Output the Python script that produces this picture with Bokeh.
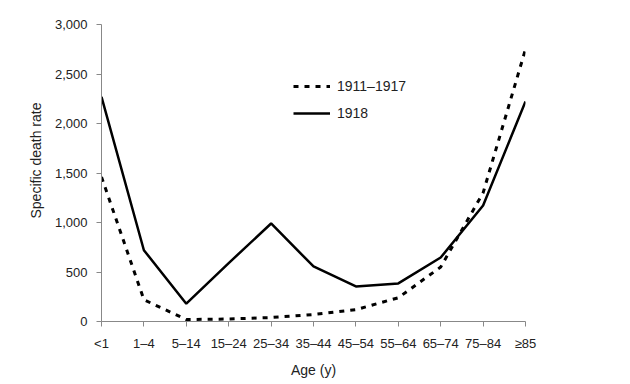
from bokeh.plotting import figure
from bokeh.models import Range1d, NumeralTickFormatter, FixedTicker, Legend, LegendItem, Title
from bokeh.embed import file_html
from bokeh.resources import INLINE

age_groups = ["<1", "1\u20134", "5\u201314", "15\u201324", "25\u201334", "35\u201344",
              "45\u201354", "55\u201364", "65\u201374", "75\u201384", "\u226585"]
rate_1911_1917 = [1460, 220, 20, 25, 40, 70, 120, 240, 550, 1300, 2750]
rate_1918 = [2270, 720, 180, 590, 990, 556, 354, 385, 646, 1172, 2222]
y_ticks = [0, 500, 1000, 1500, 2000, 2500, 3000]

x = list(range(len(age_groups)))

p = figure(width=620, height=380, output_backend="svg", toolbar_location=None,
           x_range=Range1d(0, len(age_groups) - 1), y_range=Range1d(0, 3000),
           min_border_left=101, min_border_right=95, min_border_top=24, min_border_bottom=59)
p.outline_line_color = None
p.grid.grid_line_color = None
p.background_fill_color = "white"

font = "Liberation Sans"
for ax in (p.xaxis[0], p.yaxis[0]):
    ax.axis_line_color = "#888888"
    ax.major_tick_line_color = "#888888"
    ax.minor_tick_line_color = None
    ax.major_tick_out = 5
    ax.major_tick_in = 0
    ax.major_label_text_font = font
    ax.major_label_text_font_size = "13px"
    ax.major_label_text_color = "#222222"
    ax.axis_label_text_font = font
    ax.axis_label_text_font_size = "14px"
    ax.axis_label_text_font_style = "normal"
    ax.axis_label_text_color = "#222222"

p.xaxis.ticker = FixedTicker(ticks=x)
p.xaxis.major_label_overrides = {i: lab for i, lab in enumerate(age_groups)}
p.xaxis.major_label_standoff = 9
p.xaxis.axis_label = "Age (y)"
p.xaxis.axis_label_standoff = 8

p.yaxis.ticker = FixedTicker(ticks=y_ticks)
p.yaxis.formatter = NumeralTickFormatter(format="0,0")
p.yaxis.major_label_standoff = 9

ytitle = Title(text="Specific death rate", align="left", offset=103, standoff=15,
               text_font=font, text_font_size="14px", text_font_style="normal",
               text_color="#222222")
p.add_layout(ytitle, "left")

r1 = p.line(x, rate_1911_1917, line_color="black", line_width=3, line_dash="5 6")
r2 = p.line(x, rate_1918, line_color="black", line_width=2.5)

legend = Legend(items=[LegendItem(label="1911\u20131917", renderers=[r1]),
                       LegendItem(label="1918", renderers=[r2])],
                location=(192, 198), border_line_color=None, background_fill_alpha=0,
                label_text_font=font, label_text_font_size="14px", label_text_color="#222222",
                glyph_width=37, spacing=7, padding=0, label_standoff=7)
p.add_layout(legend)

open("out.html", "w").write(file_html(p, INLINE))
